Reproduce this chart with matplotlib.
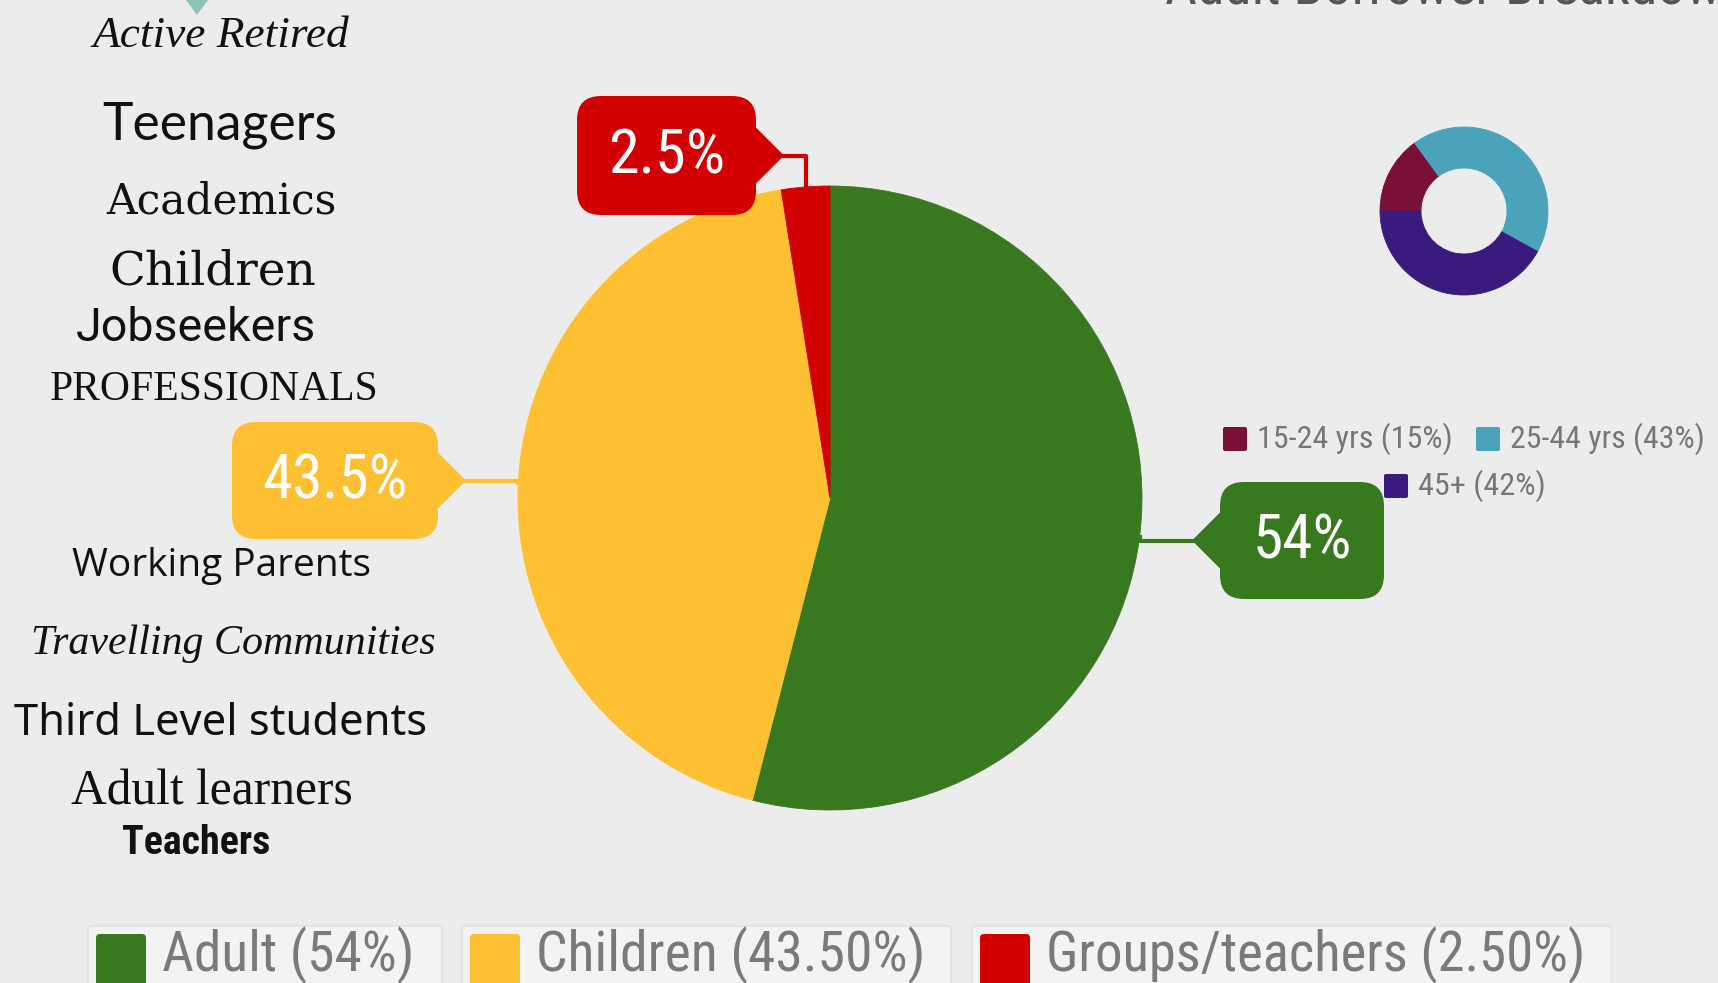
import matplotlib
matplotlib.use("Agg")
import numpy as np
import matplotlib.pyplot as plt
from matplotlib.patches import FancyBboxPatch, Polygon

W, H = 1718, 983
BG = "#ececec"
COND = ["Roboto Condensed", "Liberation Sans", "DejaVu Sans"]

# borrower categories (main pie)
segments = ["Adult", "Children", "Groups/teachers"]
shares = [54, 43.5, 2.5]
legend_labels = ["Adult (54%)", "Children (43.50%)", "Groups/teachers (2.50%)"]
seg_colors = ["#38781e", "#fcc032", "#d20000"]

# adult borrowers by age (small donut)
age_labels = ["15-24 yrs (15%)", "25-44 yrs (43%)", "45+ (42%)"]
age_shares = [15, 43, 42]
age_colors = ["#7a0f38", "#4aa3bb", "#3a1a7c"]

# audience word list on the left
audiences = ["Active Retired", "Teenagers", "Academics", "Children", "Jobseekers",
             "PROFESSIONALS", "Working Parents", "Travelling Communities",
             "Third Level students", "Adult learners", "Teachers"]

# layout (image pixels, y measured from the top)
word_pos = [(221, 36), (220, 125), (221, 202), (213, 272), (196, 328), (214, 390),
            (221, 566), (233, 644), (221, 724), (212, 792), (196, 843)]
word_width = [257, 236, 230, 206, 239, 329, 299, 405, 413, 282, 148]
word_style = [
    dict(family="Liberation Serif", style="italic"),
    dict(family="Lato"),
    dict(family="DejaVu Serif"),
    dict(family="DejaVu Serif"),
    dict(family="Roboto"),
    dict(family="Liberation Serif"),
    dict(family="Open Sans"),
    dict(family="Liberation Serif", style="italic"),
    dict(family="Noto Sans"),
    dict(family="Liberation Serif"),
    dict(family=COND, weight="bold"),
]
callout_boxes = [(1220, 482, 1384, 599, "left"),
                 (232, 422, 438, 539, "right"),
                 (577, 96, 756, 215, "right")]
callout_width = [99, 145, 117]
legend_width = [252, 389, 539]
age_width = [195, 195, 128]


def Y(y):
    return H - y


fig = plt.figure(figsize=(W / 100, H / 100), dpi=100, facecolor=BG)
ax = fig.add_axes([0, 0, 1, 1])
ax.set_facecolor(BG)
renderer = fig.canvas.get_renderer()


def fit(t, width):
    # scale a text so that its drawn width matches the reference
    size = t.get_fontsize()
    bb = t.get_window_extent(renderer)
    t.set_fontsize(size * width / bb.width)
    return t


# main pie
pie_c = (830, Y(498))
pie_r = 312
wedges, _ = ax.pie(shares, colors=seg_colors, startangle=90, counterclock=False,
                   center=pie_c, radius=pie_r, wedgeprops=dict(linewidth=0.6))
for w in wedges:
    w.set_edgecolor(w.get_facecolor())

# callout labels
for w, val, col, (x0, y0, x1, y1, side), tw in zip(wedges, shares, seg_colors,
                                                    callout_boxes, callout_width):
    mid = np.deg2rad((w.theta1 + w.theta2) / 2)
    ax_x = pie_c[0] + pie_r * np.cos(mid)
    ax_y = pie_c[1] + pie_r * np.sin(mid)
    cy = (y0 + y1) / 2
    if side == "right":
        tip_x, edge = x1 + 28, x1 - 4
    else:
        tip_x, edge = x0 - 28, x0 + 4
    ax.plot([ax_x, ax_x, tip_x], [ax_y, Y(cy), Y(cy)], color=col, lw=3,
            solid_joinstyle="round", zorder=2)
    ax.add_patch(FancyBboxPatch((x0, Y(y1)), x1 - x0, y1 - y0,
                                boxstyle="round,pad=0,rounding_size=24",
                                fc=col, ec="none", zorder=3))
    ax.add_patch(Polygon([(edge, Y(cy - 32)), (tip_x, Y(cy)), (edge, Y(cy + 32))],
                         closed=True, fc=col, ec="none", zorder=3))
    t = ax.text((x0 + x1) / 2, Y(cy + 1), f"{val:g}%", color="white", fontsize=36,
                family=COND, ha="center", va="center", zorder=4)
    fit(t, tw)

# donut of adult ages
donut_c = (1464, Y(211))
rings, _ = ax.pie(age_shares, colors=age_colors, startangle=180, counterclock=False,
                  center=donut_c, radius=84, wedgeprops=dict(width=41, linewidth=0.6))
for w in rings:
    w.set_edgecolor(w.get_facecolor())

age_keys = [(1235, 439), (1488, 439), (1396, 486)]
for lab, col, (kx, ky), tw in zip(age_labels, age_colors, age_keys, age_width):
    ax.add_patch(FancyBboxPatch((kx - 12, Y(ky + 12)), 24, 24,
                                boxstyle="round,pad=0,rounding_size=2",
                                fc=col, ec="none"))
    t = ax.text(kx + 22, Y(ky), lab, color="#777777", fontsize=20, family=COND,
                ha="left", va="center")
    fit(t, tw)

# heading at the top right, cut off by the frame as in the source image
ax.text(1165, Y(4), "Adult Borrower Breakdown", color="#555555", fontsize=40,
        family=COND, ha="left", va="baseline")
ax.add_patch(Polygon([(186, Y(0)), (208, Y(0)), (197, Y(15))], closed=True,
                     fc="#8cc5b5", ec="none"))

# audience words, sized to their measured widths
for word, (x, y), wd, st in zip(audiences, word_pos, word_width, word_style):
    t = ax.text(x, Y(y), word, ha="center", va="center", fontsize=20,
                color="#111111", **st)
    fit(t, wd)

# bottom legend
leg_boxes = [(88, 442), (462, 951), (972, 1611)]
for lab, col, (bx0, bx1), tw in zip(legend_labels, seg_colors, leg_boxes, legend_width):
    ax.add_patch(FancyBboxPatch((bx0, Y(1000)), bx1 - bx0, 1000 - 926,
                                boxstyle="round,pad=0,rounding_size=3",
                                fc="#f3f3f3", ec="#e2e2e2", lw=1.2))
    ax.add_patch(FancyBboxPatch((bx0 + 8, Y(1000)), 50, 1000 - 934,
                                boxstyle="round,pad=0,rounding_size=4",
                                fc=col, ec="none"))
    t = ax.text(bx0 + 74, Y(971), lab, color="#7a7a7a", fontsize=36, family=COND,
                ha="left", va="baseline")
    fit(t, tw)

ax.set_xlim(0, W)
ax.set_ylim(0, H)
ax.set_aspect("auto")
ax.axis("off")

fig.savefig("out.png", dpi=100, facecolor=BG)
